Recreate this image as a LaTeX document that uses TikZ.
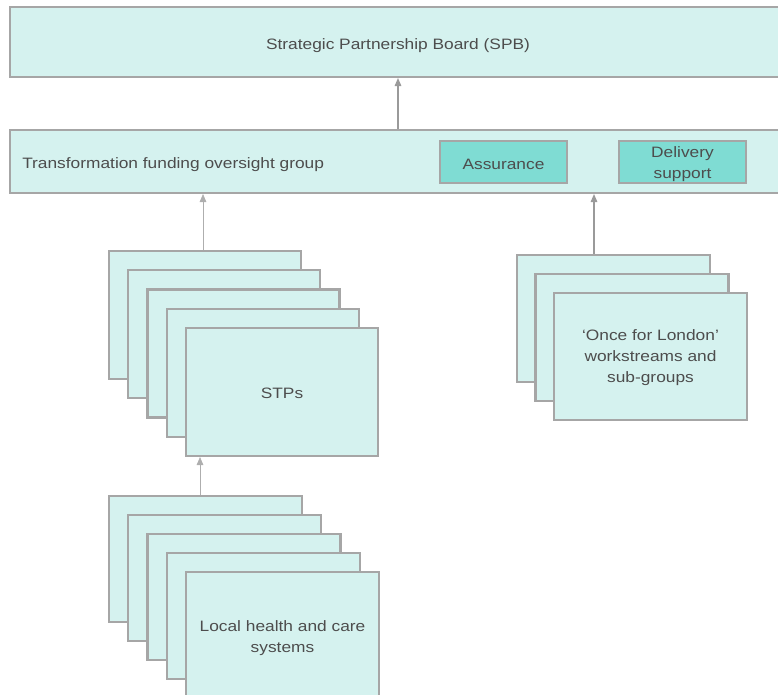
\documentclass[tikz,border=0pt]{standalone}
\usepackage{fontspec}
\setmainfont[FakeStretch=1.15]{Liberation Sans}
\usetikzlibrary{arrows.meta,calc}
\definecolor{lightfill}{HTML}{D5F2EF}
\definecolor{darkfill}{HTML}{7FDCD3}
\definecolor{bordergrey}{HTML}{A6A6A6}
\definecolor{textgrey}{HTML}{4D4D4D}
\definecolor{arrowgrey}{HTML}{9A9A9A}
\tikzset{
  box/.style={draw=bordergrey, line width=1.6pt, fill=lightfill, inner sep=0pt},
  darkbox/.style={box, fill=darkfill},
  arr/.style={draw=arrowgrey, line width=0.8pt, -{Triangle[length=6pt,width=5pt]}},
  thinarr/.style={draw=arrowgrey!80, line width=0.45pt, -{Triangle[length=6pt,width=5pt]}},
  lbl/.style={text=textgrey, inner sep=0pt, align=center, font=\fontsize{11.3}{16}\selectfont}
}
\begin{document}
\begin{tikzpicture}[x=0.75pt,y=-0.75pt]
\useasboundingbox (0,0) rectangle (778,695);
\clip (0,0) rectangle (778,695);
% top boxes
\node[box, minimum width=582pt, minimum height=52.5pt] (spb) at (398,42) {};
\node[lbl] (spblbl) at ($(spb.center)+(0,4)$) {Strategic Partnership Board (SPB)};
\node[box, minimum width=582pt, minimum height=47.25pt] (ovs) at (398,161.5) {};
\node[lbl, anchor=west] (ovslbl) at (22,165) {Transformation funding oversight group};
\node[darkbox, minimum width=95.25pt, minimum height=31.5pt] (assur) at (503.5,162) {};
\node[lbl] (assurlbl) at ($(assur.center)+(0,2)$) {Assurance};
\node[darkbox, minimum width=95.25pt, minimum height=31.5pt] (deliv) at (682.5,162) {};
\node[lbl] (delivlbl) at ($(deliv.center)+(0,2)$) {Delivery\\support};
% STPs stack
\foreach \i in {0,...,4}{
  \node[box, minimum width=144pt, minimum height=96pt] (stp\i) at ({205+19.25*\i},{315+19.25*\i}) {};
}
\node[lbl] (stplbl) at ($(stp4.center)+(0,1)$) {STPs};
% Local stack
\foreach \i in {0,...,4}{
  \node[box, minimum width=144.75pt, minimum height=94.5pt] (loc\i) at ({205.5+19.25*\i},{559+19*\i}) {};
}
\node[lbl] (loclbl) at ($(loc4.center)+(0,3)$) {Local health and care\\systems};
% Once for London stack
\foreach \i in {0,1,2}{
  \node[box, minimum width=144.75pt, minimum height=95.25pt] (once\i) at ({613.5+18.5*\i},{318.5+19*\i}) {};
}
\node[lbl] (oncelbl) at ($(once2.center)+(0,1)$) {`Once for London'\\workstreams and\\sub-groups};
% connectors
\coordinate (stpstart) at ($(stp0.north)+(-2,0)$);
\coordinate (locstart) at ($(loc0.north)+(-5.5,0)$);
\coordinate (oncestart) at ($(once0.north)+(-19.5,0)$);
\draw[arr] (ovs.north) -- (spb.south);
\draw[thinarr] (stpstart) -- (stpstart |- ovs.south);
\draw[thinarr] (locstart) -- (locstart |- stp4.south);
\draw[arr] (oncestart) -- (oncestart |- ovs.south);
\end{tikzpicture}
\end{document}
